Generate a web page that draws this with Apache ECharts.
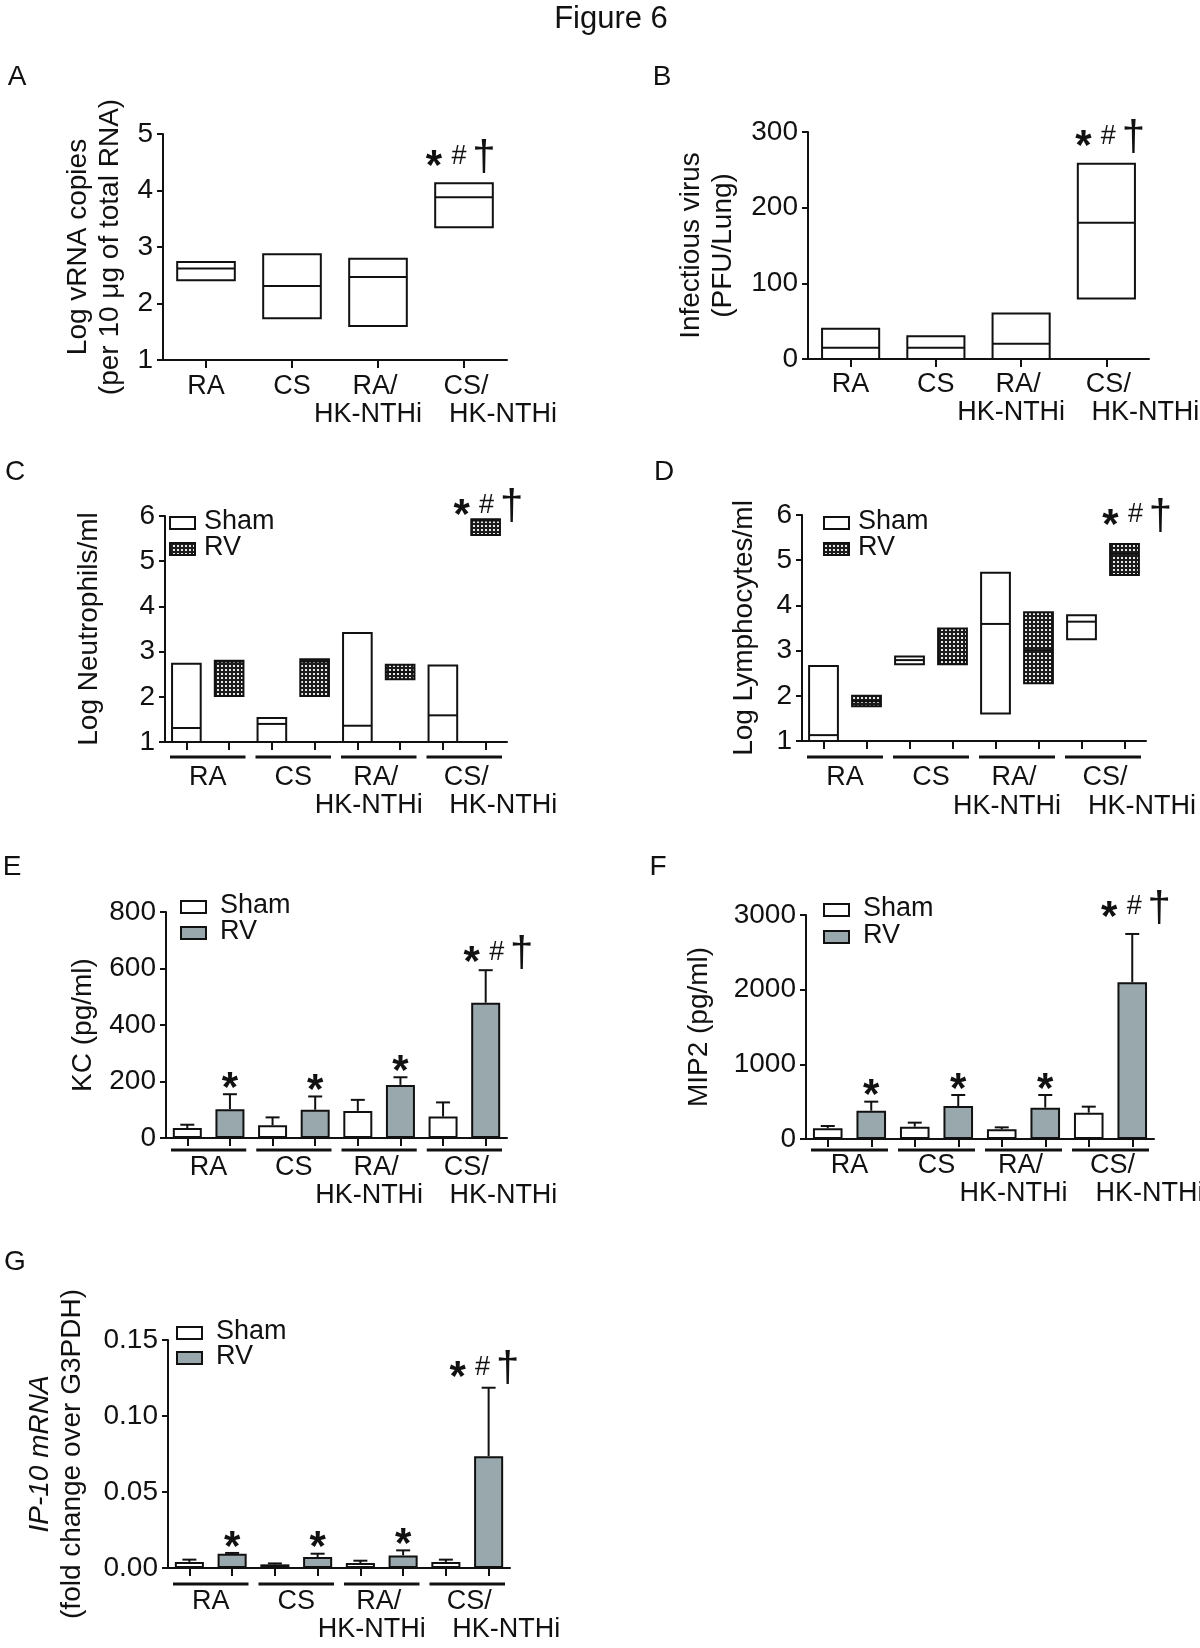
<!DOCTYPE html>
<html>
<head>
<meta charset="utf-8">
<title>Figure 6</title>
<script src="https://cdn.jsdelivr.net/npm/echarts@6/dist/echarts.min.js"></script>
<style>
html, body { margin: 0; padding: 0; background: #fff; }
#main { width: 1200px; height: 1648px; }
</style>
</head>
<body>
<div id="main"></div>
<script>
// groups on x axis (two text lines each)
var groupTop = ['RA', 'CS', 'RA/', 'CS/'];
var groupBottom = ['', '', 'HK-NTHi', 'HK-NTHi'];
var seriesNames = ['Sham', 'RV'];

// A - log vRNA copies, [low, median, high] per group
var vrnaBox = [[2.41, 2.62, 2.735], [1.74, 2.31, 2.87], [1.60, 2.47, 2.79], [3.35, 3.88, 4.13]];
// B - infectious virus PFU/lung
var pfuBox = [[0, 15, 40], [0, 15, 30], [0, 20, 60], [80, 180, 258]];
// C - log neutrophils/ml
var neutroSham = [[1.0, 1.31, 2.73], [1.0, 1.40, 1.53], [1.0, 1.36, 3.41], [1.0, 1.59, 2.69]];
var neutroRV = [[2.02, 2.78, 2.80], [2.02, 2.78, 2.83], [2.39, 2.55, 2.71], [5.58, 5.90, 5.93]];
// D - log lymphocytes/ml
var lymphoSham = [[1.0, 1.13, 2.66], [2.70, 2.79, 2.87], [1.61, 3.59, 4.72], [3.25, 3.64, 3.78]];
var lymphoRV = [[1.77, 1.88, 2.0], [2.70, 2.79, 3.49], [2.28, 3.01, 3.85], [4.67, 5.14, 5.36]];
// E - KC pg/ml, mean and SEM
var kcSham = [35, 45, 96, 76];
var kcShamErr = [12, 28, 39, 50];
var kcRV = [102, 100, 188, 479];
var kcRVErr = [53, 47, 27, 115];
// F - MIP2 pg/ml
var mipSham = [143, 165, 129, 353];
var mipShamErr = [31, 54, 27, 80];
var mipRV = [379, 442, 420, 2098];
var mipRVErr = [121, 147, 169, 648];
// G - IP-10 mRNA
var ipSham = [0.0040, 0.0024, 0.0033, 0.0040];
var ipShamErr = [0.0015, 0.0006, 0.0015, 0.0015];
var ipRV = [0.0094, 0.0072, 0.0083, 0.0736];
var ipRVErr = [0.0005, 0.0022, 0.0033, 0.0450];

// significance marks on RV bars
var sigRV = ['*', '*', '*', '*#†'];

var FONT = '"Liberation Sans", Arial, Helvetica, sans-serif';
var INK = '#111';
var RV_GRAY = '#99a8ad';

var cats4 = groupTop.map(function (t, i) { return t + groupBottom[i]; });
var cats8 = [];
cats4.forEach(function (g) {
    seriesNames.forEach(function (s) { cats8.push(g + ' ' + s); });
});

// dark stipple used for RV boxes
function makePattern() {
    var c = document.createElement('canvas');
    c.width = 4; c.height = 4;
    var ctx = c.getContext('2d');
    ctx.fillStyle = '#1c1c1c';
    ctx.fillRect(0, 0, 4, 4);
    ctx.fillStyle = '#e8e8e8';
    ctx.fillRect(1, 1, 2, 2);
    return c;
}
var stipple = { image: makePattern(), repeat: 'repeat' };

var panels = [
    { id: 'A', grid: [163, 134, 344, 226], y: [1, 5, 1], gap: 37, paired: false,
      name: 'Log vRNA copies\n(per 10 μg of total RNA)', letter: [17, 77],
      labelY: [27, 55], trio: [-5, -27] },
    { id: 'B', grid: [808, 132, 341, 227], y: [0, 300, 100], gap: 69, paired: false,
      name: 'Infectious virus\n(PFU/Lung)', letter: [662, 77],
      labelY: [26, 54], trio: [2, -27] },
    { id: 'C', grid: [165, 516, 342, 226], y: [1, 6, 1], gap: 60, paired: true,
      name: 'Log Neutrophils/ml', letter: [15, 472],
      labelY: [36, 64], underline: 15, trio: [1, -14], legend: [5, 7, 33, 39] },
    { id: 'D', grid: [802, 515, 344, 226], y: [1, 6, 1], gap: 42, paired: true,
      name: 'Log Lymphocytes/ml', letter: [664, 472],
      labelY: [37, 66], underline: 16, trio: [11, -29], legend: [22, 8, 34, 56] },
    { id: 'E', grid: [166, 912, 341, 226], y: [0, 800, 200], gap: 67, paired: true,
      name: 'KC (pg/ml)', letter: [12, 867],
      labelY: [30, 58], underline: 12, trio: [11, -18], legend: [15, -5, 21, 54] },
    { id: 'F', grid: [806, 915, 348, 224], y: [0, 3000, 1000], gap: 91, paired: true,
      name: 'MIP2 (pg/ml)', letter: [658, 867],
      labelY: [27, 55], underline: 11, trio: [2, -27], legend: [18, -5, 22, 57] },
    { id: 'G', grid: [168, 1340, 342, 228], y: [0, 0.15, 0.05], gap: 80, paired: true,
      name: '{i|IP-10 mRNA}\n(fold change over G3PDH)', letter: [15, 1262],
      labelY: [34, 62], underline: 16, trio: [-6, -20], legend: [9, -7, 18, 48],
      fmt: function (v) { return v.toFixed(2); } }
];

function boxRender(fill) {
    return function (params, api) {
        var x = api.value(0);
        var lo = api.coord([x, api.value(1)]);
        var md = api.coord([x, api.value(2)]);
        var hi = api.coord([x, api.value(3)]);
        var w = api.size([1, 0])[0] * 0.67;
        return { type: 'group', children: [
            { type: 'rect', shape: { x: lo[0] - w / 2, y: hi[1], width: w, height: lo[1] - hi[1] },
              style: { fill: fill, stroke: INK, lineWidth: 2 } },
            { type: 'line', shape: { x1: lo[0] - w / 2, y1: md[1], x2: lo[0] + w / 2, y2: md[1] },
              style: { stroke: INK, lineWidth: 2 } }
        ] };
    };
}

function errRender(params, api) {
    var x = api.value(0);
    var a = api.coord([x, api.value(1)]);
    var b = api.coord([x, api.value(2)]);
    var cw = 7;
    return { type: 'group', children: [
        { type: 'line', shape: { x1: a[0], y1: a[1], x2: b[0], y2: b[1] }, style: { stroke: INK, lineWidth: 2 } },
        { type: 'line', shape: { x1: b[0] - cw, y1: b[1], x2: b[0] + cw, y2: b[1] }, style: { stroke: INK, lineWidth: 2 } }
    ] };
}

function txt(t, x, y, size, weight) {
    return { type: 'text', style: { text: t, x: x, y: y, fill: INK, fontFamily: FONT, fontSize: size,
        fontWeight: weight || 'normal', align: 'center', verticalAlign: 'middle' } };
}

function markRender(texts, trio) {
    return function (params, api) {
        var p = api.coord([api.value(0), api.value(1)]);
        var t = texts[params.dataIndex];
        if (t === '*') {
            return { type: 'group', children: [txt('*', p[0], p[1] - 16 + 11, 42, 'bold')] };
        }
        var cx = p[0] + trio[0], cy = p[1] + trio[1];
        return { type: 'group', children: [
            txt('*', cx - 25, cy + 11, 42, 'bold'),
            txt('#', cx, cy, 27),
            txt('†', cx + 25, cy + 2, 42)
        ] };
    };
}

function customSeries(k, data, render, z) {
    return { type: 'custom', xAxisIndex: k, yAxisIndex: k, data: data, clip: false, silent: true,
        z: z || 2, renderItem: render, encode: { x: 0, y: [1, 2] } };
}

function padBars(vals, odd) {
    var out = [];
    vals.forEach(function (v) {
        if (odd) { out.push('-'); out.push(v); } else { out.push(v); out.push('-'); }
    });
    return out;
}

var option = {
    animation: false,
    backgroundColor: '#fff',
    textStyle: { fontFamily: FONT, color: INK },
    grid: [], xAxis: [], yAxis: [], series: []
};

panels.forEach(function (p, k) {
    option.grid.push({ left: p.grid[0], top: p.grid[1], width: p.grid[2], height: p.grid[3] });
    option.xAxis.push({
        type: 'category', gridIndex: k, data: p.paired ? cats8 : cats4, boundaryGap: true,
        axisLine: { lineStyle: { color: INK, width: 2 } },
        axisTick: { show: true, alignWithLabel: true, interval: 0, length: 8, lineStyle: { color: INK, width: 2 } },
        axisLabel: { show: false },
        splitLine: { show: false }
    });
    option.yAxis.push({
        type: 'value', gridIndex: k, min: p.y[0], max: p.y[1], interval: p.y[2],
        name: p.name, nameLocation: 'middle', nameRotate: 90, nameGap: p.gap,
        nameTextStyle: { fontFamily: FONT, fontSize: 28, color: INK, lineHeight: 32,
            rich: { i: { fontStyle: 'italic', fontFamily: FONT, fontSize: 28, color: INK, lineHeight: 32 } } },
        axisLine: { show: true, lineStyle: { color: INK, width: 2 } },
        axisTick: { show: true, length: 6, lineStyle: { color: INK, width: 2 } },
        axisLabel: { fontFamily: FONT, fontSize: 28, color: INK, margin: 10,
            formatter: p.fmt || function (v) { return String(v); } },
        splitLine: { show: false }
    });
});

function boxData(list, step, off) {
    return list.map(function (b, i) { return [i * step + off, b[0], b[1], b[2]]; });
}
function errData(mean, err, off) {
    return mean.map(function (m, i) { return [2 * i + off, m, m + err[i]]; });
}
function boxSeries(k, data, fill) {
    var s = customSeries(k, data, boxRender(fill));
    s.encode = { x: 0, y: [1, 2, 3] };
    return s;
}
function barSeries(k, name, vals, odd, color) {
    return { type: 'bar', name: name, xAxisIndex: k, yAxisIndex: k, data: padBars(vals, odd),
        barWidth: '68%', barGap: '-100%', silent: true, z: 3,
        itemStyle: { color: color, borderColor: INK, borderWidth: 2 } };
}

// A and B: floating boxes
option.series.push(boxSeries(0, boxData(vrnaBox, 1, 0), '#fff'));
option.series.push(customSeries(0, [[3, vrnaBox[3][2]]], markRender(['*#†'], panels[0].trio), 5));
option.series.push(boxSeries(1, boxData(pfuBox, 1, 0), '#fff'));
option.series.push(customSeries(1, [[3, pfuBox[3][2]]], markRender(['*#†'], panels[1].trio), 5));
// C and D: Sham vs RV boxes
option.series.push(boxSeries(2, boxData(neutroSham, 2, 0), '#fff'));
option.series.push(boxSeries(2, boxData(neutroRV, 2, 1), stipple));
option.series.push(customSeries(2, [[7, neutroRV[3][2]]], markRender(['*#†'], panels[2].trio), 5));
option.series.push(boxSeries(3, boxData(lymphoSham, 2, 0), '#fff'));
option.series.push(boxSeries(3, boxData(lymphoRV, 2, 1), stipple));
option.series.push(customSeries(3, [[7, lymphoRV[3][2]]], markRender(['*#†'], panels[3].trio), 5));

// E, F, G: bars with SEM
[[4, kcSham, kcShamErr, kcRV, kcRVErr], [5, mipSham, mipShamErr, mipRV, mipRVErr],
 [6, ipSham, ipShamErr, ipRV, ipRVErr]].forEach(function (d) {
    var k = d[0];
    option.series.push(customSeries(k, errData(d[1], d[2], 0), errRender, 1));
    option.series.push(customSeries(k, errData(d[3], d[4], 1), errRender, 1));
    option.series.push(barSeries(k, seriesNames[0], d[1], false, '#fff'));
    option.series.push(barSeries(k, seriesNames[1], d[3], true, RV_GRAY));
    var marks = d[3].map(function (m, i) { return [2 * i + 1, m + d[4][i]]; });
    option.series.push(customSeries(k, marks, markRender(sigRV, panels[k].trio), 5));
});

var chart = echarts.init(document.getElementById('main'));
chart.setOption(option);

// figure title, group labels, underlines, legends and panel letters
var graphics = [txt('Figure 6', 611, 19, 31)];
var off1 = [0, 0, -3, 2];
var off2 = [0, 0, -10, 39];
panels.forEach(function (p, k) {
    var base = chart.convertToPixel({ gridIndex: k }, [0, p.y[0]])[1];
    for (var i = 0; i < 4; i++) {
        var cx, half = 0;
        if (p.paired) {
            var a = chart.convertToPixel({ gridIndex: k }, [cats8[2 * i], p.y[0]])[0];
            var b = chart.convertToPixel({ gridIndex: k }, [cats8[2 * i + 1], p.y[0]])[0];
            cx = (a + b) / 2;
            half = (b - a) - 5;
        } else {
            cx = chart.convertToPixel({ gridIndex: k }, [cats4[i], p.y[0]])[0];
        }
        if (p.underline) {
            graphics.push({ type: 'line', shape: { x1: cx - half, y1: base + p.underline, x2: cx + half, y2: base + p.underline },
                style: { stroke: INK, lineWidth: 3 } });
        }
        graphics.push(txt(groupTop[i], cx + off1[i], base + p.labelY[0], 27));
        if (groupBottom[i]) graphics.push(txt(groupBottom[i], cx + off2[i], base + p.labelY[1], 27));
    }
    graphics.push(txt(p.id, p.letter[0], p.letter[1], 28));
    if (p.legend) {
        var lx = p.grid[0] + p.legend[0];
        var fills = [ '#fff', k < 4 ? stipple : RV_GRAY ];
        [p.legend[1], p.legend[2]].forEach(function (dy, j) {
            var ly = p.grid[1] + dy;
            graphics.push({ type: 'rect', shape: { x: lx, y: ly - 6, width: 25, height: 12 },
                style: { fill: fills[j], stroke: INK, lineWidth: 2 } });
            graphics.push({ type: 'text', style: { text: seriesNames[j], x: p.grid[0] + p.legend[3], y: ly - 1,
                fill: INK, fontFamily: FONT, fontSize: 27, align: 'left', verticalAlign: 'middle' } });
        });
    }
});
chart.setOption({ graphic: graphics });
</script>
</body>
</html>
